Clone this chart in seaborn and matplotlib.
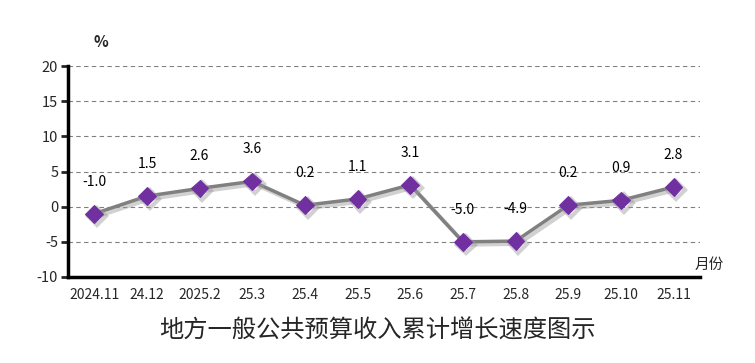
import pandas as pd
import matplotlib
matplotlib.use('Agg')
import matplotlib.pyplot as plt
import matplotlib.patheffects as pe
import seaborn as sns

months = ['2024.11', '24.12', '2025.2', '25.3', '25.4', '25.5', '25.6',
          '25.7', '25.8', '25.9', '25.10', '25.11']
growth = [-1.0, 1.5, 2.6, 3.6, 0.2, 1.1, 3.1, -5.0, -4.9, 0.2, 0.9, 2.8]
yticks = [-10, -5, 0, 5, 10, 15, 20]

sns.set_style('white')
plt.rcParams['font.family'] = ['Noto Sans CJK SC', 'DejaVu Sans']

df = pd.DataFrame({'month': months, 'growth': growth})
df['pos'] = range(len(df))

fig = plt.figure(figsize=(7.55, 3.63), dpi=100)
ax = fig.add_axes([0.090, 0.237, 0.837, 0.581])

sns.lineplot(data=df, x='pos', y='growth', ax=ax, color='#808080', linewidth=2.5,
             marker='D', markersize=9, markerfacecolor='#7030A0', markeredgecolor='#7030A0',
             path_effects=[pe.SimpleLineShadow(offset=(2, -2), shadow_color='#999999', alpha=0.45, linewidth=3),
                           pe.Normal()])

for x, y in zip(df['pos'], df['growth']):
    ax.annotate(f'{y:.1f}', (x, y), xytext=(0, 23), textcoords='offset points',
                ha='center', va='center', fontsize=10, color='black')

ax.set_xlim(-0.5, len(months) - 0.5)
ax.set_ylim(-10, 20)
ax.set_yticks(yticks)
ax.set_xticks(df['pos'])
ax.set_xticklabels(months, fontsize=10)
ax.set_yticklabels([str(t) for t in yticks], fontsize=10.5)
ax.set_xlabel('')
ax.set_ylabel('')
for t in yticks[1:]:
    ax.axhline(t, color='#808080', linestyle=(0, (4, 3)), linewidth=0.8, zorder=0)

for s in ['top', 'right']:
    ax.spines[s].set_visible(False)
ax.spines['left'].set_linewidth(2.5)
ax.spines['bottom'].set_linewidth(2.5)
ax.spines['left'].set_color('black')
ax.spines['bottom'].set_color('black')
ax.tick_params(axis='y', length=5, width=2, direction='out', left=True, pad=2)
ax.tick_params(axis='x', length=0, pad=8)

fig.text(0.133, 0.885, '%', fontsize=11, fontweight='bold', ha='center', va='center')
fig.text(0.94, 0.27, '月份', fontsize=10.5, ha='center', va='center')
fig.text(0.5, 0.09, '地方一般公共预算收入累计增长速度图示', fontsize=17.5, ha='center', va='center')

plt.savefig('out.png', dpi=100)
